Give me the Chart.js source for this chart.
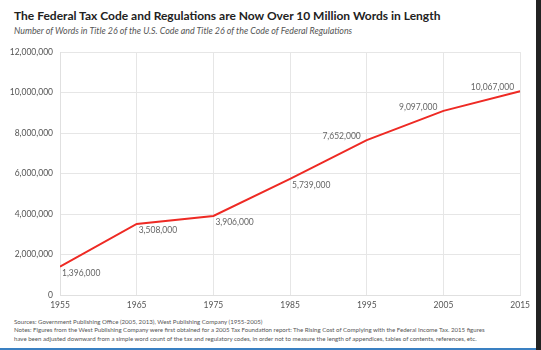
<!DOCTYPE html>
<html>
<head>
<meta charset="utf-8">
<script src="https://cdn.jsdelivr.net/npm/chart.js@4/dist/chart.umd.min.js"></script>
<style>
  html, body { margin: 0; padding: 0; background: #fff; }
  body { width: 541px; height: 350px; position: relative; overflow: hidden; font-family: Lato, sans-serif; }
  #title { position: absolute; left: 14px; top: 8px; font-size: 12px; font-weight: bold; color: #222; white-space: nowrap; }
  #subtitle { position: absolute; left: 14px; top: 25px; font-size: 8.9px; font-style: italic; color: #555; white-space: nowrap; }
  #wrap { position: absolute; left: 0; top: 40px; width: 535px; height: 275px; }
  #notes { position: absolute; left: 14px; top: 318px; font-size: 6.1px; line-height: 8.3px; color: #555; white-space: nowrap; }
  #edge { position: absolute; right: 0; top: 0; width: 5px; height: 350px; background: #222; }
  #bar { position: absolute; left: 0; bottom: 0; width: 536px; height: 2px; background: #3a80c2; }
</style>
</head>
<body>
<div id="title">The Federal Tax Code and Regulations are Now Over 10 Million Words in Length</div>
<div id="subtitle">Number of Words in Title 26 of the U.S. Code and Title 26 of the Code of Federal Regulations</div>
<div id="wrap"><canvas id="chart"></canvas></div>
<div id="notes">Sources: Government Publishing Office (2005, 2013), West Publishing Company (1955-2005)<br>
Notes: Figures from the West Publishing Company were first obtained for a 2005 Tax Foundation report: The Rising Cost of Complying with the Federal Income Tax. 2015 figures<br>
have been adjusted downward from a simple word count of the tax and regulatory codes, in order not to measure the length of appendices, tables of contents, references, etc.</div>
<div id="edge"></div>
<div id="bar"></div>
<script>
// 연도와 단어 수
const years = [1955, 1965, 1975, 1985, 1995, 2005, 2015];
const words = [1396000, 3508000, 3906000, 5739000, 7652000, 9097000, 10067000];

// 각 점에 값 표시
const valueLabels = {
    id: 'valueLabels',
    afterDatasetsDraw(chart) {
        const ctx = chart.ctx;
        const meta = chart.getDatasetMeta(0);
        ctx.save();
        ctx.font = '8.5px Lato, sans-serif';
        ctx.fillStyle = '#666';
        ctx.textBaseline = 'middle';
        meta.data.forEach((pt, i) => {
            const txt = words[i].toLocaleString('en-US');
            if (i < 4) {
                ctx.textAlign = 'left';
                ctx.fillText(txt, pt.x + 2, pt.y + 6.5);
            } else {
                ctx.textAlign = 'right';
                ctx.fillText(txt, pt.x - 6, pt.y - 4);
            }
        });
        ctx.restore();
    }
};

const ctx = document.getElementById('chart').getContext('2d');
new Chart(ctx, {
    type: 'line',
    data: {
        labels: years,
        datasets: [{
            data: words,
            borderColor: '#ee2a24',
            borderWidth: 2,
            pointRadius: 0,
            fill: false,
            tension: 0
        }]
    },
    options: {
        responsive: true,
        maintainAspectRatio: false,
        animation: false,
        layout: { padding: { top: 11, right: 10, left: 0, bottom: 0 } },
        plugins: {
            legend: { display: false },
            tooltip: { enabled: false }
        },
        scales: {
            x: {
                type: 'linear',
                min: 1955,
                max: 2015,
                afterFit(s) { s.height = 20; },
                afterBuildTicks(s) { s.ticks = years.map(v => ({ value: v })); },
                grid: { color: '#e6e6e6', drawTicks: false },
                border: { color: '#e0e0e0' },
                ticks: {
                    padding: 5,
                    color: '#555',
                    font: { family: 'Lato', size: 8.5 },
                    maxRotation: 0,
                    callback: v => String(v)
                }
            },
            y: {
                min: 0,
                max: 12000000,
                afterFit(s) { s.width = 60; },
                grid: { color: '#e6e6e6', drawTicks: false },
                border: { color: '#e0e0e0' },
                ticks: {
                    stepSize: 2000000,
                    padding: 7,
                    color: '#555',
                    font: { family: 'Lato', size: 8.5 },
                    callback: v => v.toLocaleString('en-US')
                }
            }
        }
    },
    plugins: [valueLabels]
});
</script>
</body>
</html>
